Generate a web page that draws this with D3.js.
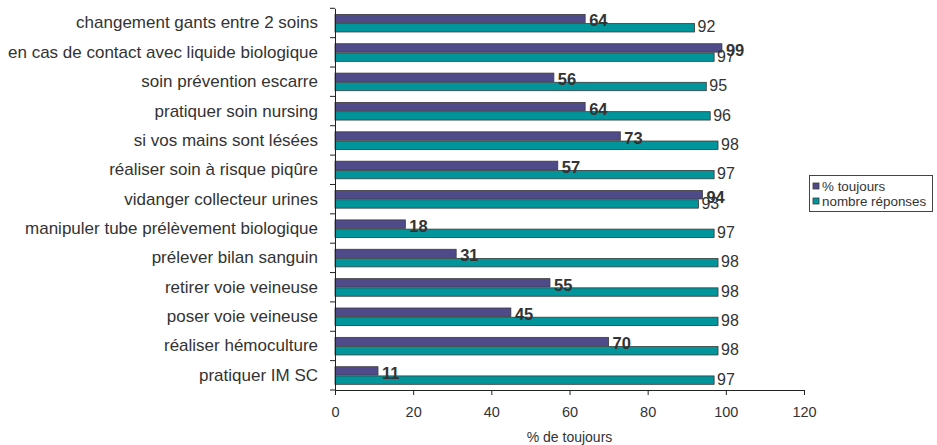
<!DOCTYPE html>
<html><head><meta charset="utf-8">
<script src="https://cdn.jsdelivr.net/npm/d3@7"></script>
<style>body{margin:0;background:#fff;} svg{display:block;}</style>
</head><body>
<svg id="c" width="937" height="445"></svg>
<script>
const categories = [
  "changement gants entre 2 soins",
  "en cas de contact avec liquide biologique",
  "soin prévention escarre",
  "pratiquer soin nursing",
  "si vos mains sont lésées",
  "réaliser soin à risque piqûre",
  "vidanger collecteur urines",
  "manipuler tube prélèvement biologique",
  "prélever bilan sanguin",
  "retirer voie veineuse",
  "poser voie veineuse",
  "réaliser hémoculture",
  "pratiquer IM SC"
];
const toujours = [64, 99, 56, 64, 73, 57, 94, 18, 31, 55, 45, 70, 11];
const reponses = [92, 97, 95, 96, 98, 97, 93, 97, 98, 98, 98, 98, 97];
const xTicks = [0, 20, 40, 60, 80, 100, 120];
const seriesNames = ["% toujours", "nombre réponses"];
const axisTitle = "% de toujours";

const purple = "#4f4b8b", teal = "#00959a", stroke = "#3a3a3a";
const font = "'Liberation Sans', Arial, sans-serif";
const svg = d3.select("#c");

const x = d3.scaleLinear().domain([0, 120]).range([335, 804]);
const y = d3.scaleBand().domain(categories).range([8.3, 390]);
const barH = 8.4;

// bars
const g = svg.append("g");
categories.forEach((c, i) => {
  const cy = y(c) + y.bandwidth() / 2;
  g.append("rect").attr("x", x(0)).attr("y", cy - barH - 0.2)
    .attr("width", x(toujours[i]) - x(0)).attr("height", barH)
    .attr("fill", purple).attr("stroke", stroke).attr("stroke-width", 0.8);
  g.append("rect").attr("x", x(0)).attr("y", cy + 0.6)
    .attr("width", x(reponses[i]) - x(0)).attr("height", barH)
    .attr("fill", teal).attr("stroke", stroke).attr("stroke-width", 0.8);
});
// labels teal (normal) first, then purple bold on top
categories.forEach((c, i) => {
  const cy = y(c) + y.bandwidth() / 2;
  g.append("text").attr("x", x(reponses[i]) + 3).attr("y", cy + 9.5)
    .attr("font-family", font).attr("font-size", 16).attr("fill", "#333")
    .text(reponses[i]);
});
categories.forEach((c, i) => {
  const cy = y(c) + y.bandwidth() / 2;
  g.append("text").attr("x", x(toujours[i]) + 4).attr("y", cy + 3.5)
    .attr("font-family", font).attr("font-size", 16.5).attr("font-weight", "bold").attr("fill", "#333")
    .text(toujours[i]);
});

// y axis
const ya = svg.append("g").attr("transform", `translate(${x(0)},0)`)
  .call(d3.axisLeft(y).tickSize(0).tickPadding(17));
ya.select(".domain").attr("stroke", "#222");
ya.selectAll("text").attr("font-family", font).attr("font-size", 17).attr("fill", "#333");
// band boundary ticks
const bounds = categories.map(c => y(c)).concat([y.range()[1]]);
ya.selectAll("line.bt").data(bounds).enter().append("line")
  .attr("x1", -5).attr("x2", 0).attr("y1", d => d).attr("y2", d => d).attr("stroke", "#222");

// x axis
const xa = svg.append("g").attr("transform", `translate(0,390)`)
  .call(d3.axisBottom(x).tickValues(xTicks).tickSize(5).tickPadding(12).tickSizeOuter(0));
xa.select(".domain").attr("stroke", "#222");
xa.selectAll("line").attr("stroke", "#222");
xa.selectAll("text").attr("font-family", font).attr("font-size", 14.5).attr("fill", "#333");

svg.append("text").attr("x", (x(0) + x(120)) / 2).attr("y", 442).attr("text-anchor", "middle")
  .attr("font-family", font).attr("font-size", 14).attr("fill", "#333").text(axisTitle);

// legend
const lg = svg.append("g");
lg.append("rect").attr("x", 809.5).attr("y", 175.5).attr("width", 123).attr("height", 36)
  .attr("fill", "#fff").attr("stroke", "#444").attr("stroke-width", 1);
[purple, teal].forEach((col, i) => {
  const ly = 186.5 + i * 15;
  lg.append("rect").attr("x", 813).attr("y", ly - 3.5).attr("width", 6).attr("height", 6)
    .attr("fill", col).attr("stroke", stroke).attr("stroke-width", 0.8);
  lg.append("text").attr("x", 822).attr("y", ly + 4.5).attr("font-family", font)
    .attr("font-size", 13.4).attr("fill", "#333").text(seriesNames[i]);
});
</script>
</body></html>
